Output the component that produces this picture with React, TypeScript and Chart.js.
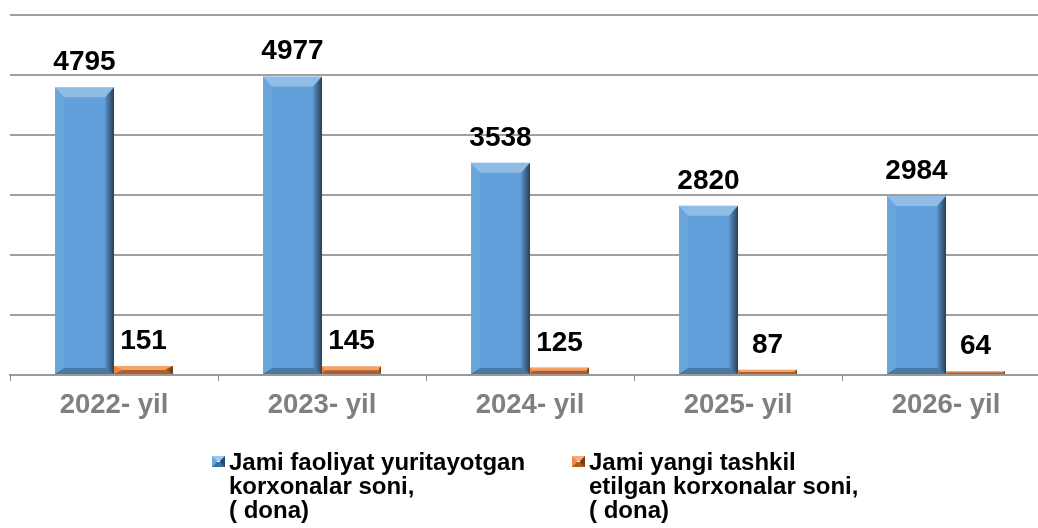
import React, { useEffect, useRef } from "react";
import { Chart, registerables } from "chart.js";

Chart.register(...registerables);

const categories = ["2022- yil", "2023- yil", "2024- yil", "2025- yil", "2026- yil"];
const totalActive = [4795, 4977, 3538, 2820, 2984];
const newlyCreated = [151, 145, 125, 87, 64];
const seriesNames = [
  ["Jami faoliyat yuritayotgan", "korxonalar soni,", "( dona)"],
  ["Jami yangi tashkil", "etilgan korxonalar soni,", "( dona)"],
];
const yMax = 6000;
const yStep = 1000;

const FONT = "'Liberation Sans', Arial, sans-serif";
const BLUE = "#62a0dc";
const ORANGE = "#ed7d31";

const bevelPlugin = {
  id: "bevel",
  afterDatasetsDraw(chart: any) {
    const ctx = chart.ctx;
    chart.data.datasets.forEach((_: any, di: number) => {
      const meta = chart.getDatasetMeta(di);
      meta.data.forEach((bar: any) => {
        const { x, y, base, width } = bar.getProps(["x", "y", "base", "width"], true);
        const l = x - width / 2;
        const r = x + width / 2;
        const t = Math.min(y, base);
        const bot = Math.max(y, base);
        const h = bot - t;
        const tb = Math.min(10, h / 2);
        const bb = Math.min(6, h / 2);
        const sb = Math.min(9, width / 2, h / 2 > 4 ? 9 : 3);
        ctx.save();
        // top bevel
        ctx.beginPath();
        ctx.moveTo(l, t);
        ctx.lineTo(r, t);
        ctx.lineTo(r - sb, t + tb);
        ctx.lineTo(l + sb, t + tb);
        ctx.closePath();
        ctx.fillStyle = "rgba(255,255,255,0.3)";
        ctx.fill();
        // left bevel
        ctx.beginPath();
        ctx.moveTo(l, t);
        ctx.lineTo(l + sb, t + tb);
        ctx.lineTo(l + sb, bot - bb);
        ctx.lineTo(l, bot);
        ctx.closePath();
        ctx.fillStyle = "rgba(255,255,255,0.06)";
        ctx.fill();
        // right bevel
        const g = ctx.createLinearGradient(r - sb, 0, r, 0);
        g.addColorStop(0, "rgba(0,0,0,0.08)");
        g.addColorStop(1, "rgba(0,0,0,0.6)");
        ctx.beginPath();
        ctx.moveTo(r, t);
        ctx.lineTo(r - sb, t + tb);
        ctx.lineTo(r - sb, bot - bb);
        ctx.lineTo(r, bot);
        ctx.closePath();
        ctx.fillStyle = g;
        ctx.fill();
        // bottom bevel
        ctx.beginPath();
        ctx.moveTo(l, bot);
        ctx.lineTo(l + sb, bot - bb);
        ctx.lineTo(r - sb, bot - bb);
        ctx.lineTo(r, bot);
        ctx.closePath();
        ctx.fillStyle = "rgba(0,0,0,0.25)";
        ctx.fill();
        ctx.restore();
      });
    });
  },
};

const valueLabelPlugin = {
  id: "valueLabels",
  afterDatasetsDraw(chart: any) {
    const ctx = chart.ctx;
    ctx.save();
    ctx.font = `bold 28px ${FONT}`;
    ctx.fillStyle = "#000";
    ctx.textAlign = "center";
    ctx.textBaseline = "alphabetic";
    chart.data.datasets.forEach((ds: any, di: number) => {
      const meta = chart.getDatasetMeta(di);
      meta.data.forEach((bar: any, i: number) => {
        const { x, y } = bar.getProps(["x", "y"], true);
        ctx.fillText(String(ds.data[i]), x, y - 17);
      });
    });
    ctx.restore();
  },
};

function Marker({ light, mid, dark, darker }: { light: string; mid: string; dark: string; darker: string }) {
  return (
    <div
      style={{
        width: 3,
        height: 1,
        borderStyle: "solid",
        borderWidth: "5px 5px 5px 5px",
        borderTopColor: light,
        borderLeftColor: mid,
        borderRightColor: darker,
        borderBottomColor: dark,
      }}
    />
  );
}

export default function App() {
  const canvasRef = useRef<HTMLCanvasElement>(null);

  useEffect(() => {
    if (!canvasRef.current) return;
    const chart = new Chart(canvasRef.current, {
      type: "bar",
      data: {
        labels: categories,
        datasets: [
          {
            label: seriesNames[0].join(" "),
            data: totalActive,
            backgroundColor: BLUE,
            barPercentage: 1,
            categoryPercentage: 0.567,
          },
          {
            label: seriesNames[1].join(" "),
            data: newlyCreated,
            backgroundColor: ORANGE,
            barPercentage: 1,
            categoryPercentage: 0.567,
          },
        ],
      },
      options: {
        animation: false,
        responsive: false,
        maintainAspectRatio: false,
        layout: { padding: { left: 10, right: 0, top: 15, bottom: 0 } },
        plugins: {
          legend: { display: false },
          tooltip: { enabled: false },
        },
        scales: {
          x: {
            grid: {
              display: true,
              drawOnChartArea: false,
              drawTicks: true,
              tickLength: 6,
              color: "#8c8c8c",
              offset: true,
            },
            border: { display: true, color: "#9a9a9a", width: 2 },
            ticks: {
              color: "#7f7f7f",
              font: { family: FONT, size: 27.5, weight: "bold" },
              padding: 8,
            },
            afterFit(scale: any) {
              scale.height = 153;
            },
          },
          y: {
            min: 0,
            max: yMax,
            ticks: { display: false, stepSize: yStep },
            grid: { color: "#a0a0a0", lineWidth: 2, drawTicks: false },
            border: { display: false },
            afterFit(scale: any) {
              scale.width = 0;
            },
          },
        },
      },
      plugins: [bevelPlugin, valueLabelPlugin],
    } as any);
    return () => chart.destroy();
  }, []);

  const legendText: React.CSSProperties = {
    fontFamily: FONT,
    fontWeight: "bold",
    fontSize: 24,
    lineHeight: "24px",
    color: "#000",
    whiteSpace: "nowrap",
  };

  return (
    <div
      style={{
        position: "fixed",
        left: 0,
        top: 0,
        width: 1038,
        height: 528,
        overflow: "hidden",
        background: "#fff",
      }}
    >
      <canvas ref={canvasRef} width={1050} height={528} style={{ position: "absolute", left: 0, top: 0 }} />
      <div style={{ position: "absolute", left: 212, top: 456 }}>
        <Marker light="#9ccaf0" mid="#6aa8e0" dark="#3a6ea0" darker="#24486e" />
      </div>
      <div style={{ position: "absolute", left: 229, top: 450, ...legendText }}>
        {seriesNames[0].map((s, i) => (
          <div key={i}>{s}</div>
        ))}
      </div>
      <div style={{ position: "absolute", left: 572, top: 456 }}>
        <Marker light="#f5b080" mid="#ed8a45" dark="#b05a20" darker="#7a3a10" />
      </div>
      <div style={{ position: "absolute", left: 589, top: 450, ...legendText }}>
        {seriesNames[1].map((s, i) => (
          <div key={i}>{s}</div>
        ))}
      </div>
    </div>
  );
}
